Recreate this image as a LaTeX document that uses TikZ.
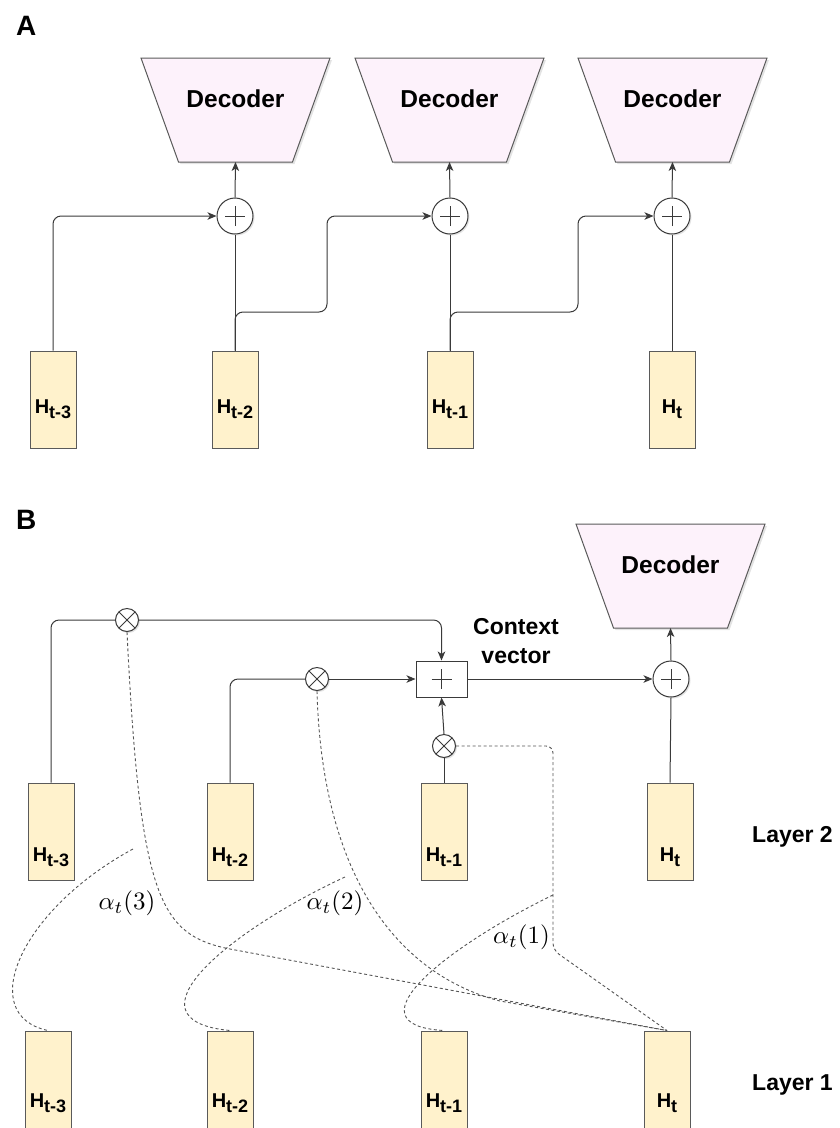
\documentclass[tikz,border=0pt]{standalone}
\usepackage[no-math]{fontspec}
\setmainfont{Liberation Sans}
\usetikzlibrary{arrows.meta,shadows,calc}
\definecolor{hfill}{HTML}{FFF2CC}
\definecolor{hdraw}{HTML}{5A5A5A}
\definecolor{dfill}{HTML}{FDF2FB}
\definecolor{ln}{HTML}{3A3A3A}
\definecolor{dsh}{HTML}{555555}
\newcommand{\hlab}[2]{\raisebox{-#1}[0pt][0pt]{\fontsize{20}{20}\selectfont\bfseries H\raisebox{-4.5pt}{\fontsize{18}{18}\selectfont #2}}}
\newcommand{\decoder}[3]{%
  \path[draw=hdraw, fill=dfill, line width=1pt, drop shadow={shadow xshift=2pt,shadow yshift=-2pt,opacity=0.22}]
    (#2-94.5,#3) -- (#2+94.5,#3) -- (#2+57,#3+104) -- (#2-57,#3+104) -- cycle;
  \node[dectext, anchor=base] (#1) at (#2,#3+49) {Decoder};
  \coordinate (#1b) at (#2,#3+104);
}
\begin{document}
\begin{tikzpicture}[x=1pt,y=-1pt,
  hbox/.style={draw=hdraw, fill=hfill, line width=1pt, minimum width=46pt, minimum height=97pt, inner sep=0pt},
  conn/.style={draw=ln, line width=1pt},
  arr/.style={conn, -{Stealth[length=9pt,width=7.5pt,inset=2.5pt]}},
  dashln/.style={draw=dsh, line width=0.9pt, dash pattern=on 3pt off 2.5pt},
  dectext/.style={inner sep=0pt, font=\fontsize{24.5}{24.5}\selectfont\bfseries},
  bigtext/.style={inner sep=0pt, font=\fontsize{23}{29}\selectfont\bfseries},
  plusmark/.style={path picture={\draw[ln,line width=1pt] ([xshift=-10pt]path picture bounding box.center) -- ([xshift=10pt]path picture bounding box.center) ([yshift=-10pt]path picture bounding box.center) -- ([yshift=10pt]path picture bounding box.center);}},
  sumc/.style={circle, draw=ln, fill=white, line width=1pt, minimum size=36pt, inner sep=0pt, drop shadow={shadow xshift=1.5pt,shadow yshift=-1.5pt,opacity=0.22}, plusmark},
  mulc/.style={circle, draw=ln, fill=white, line width=1pt, minimum size=23pt, inner sep=0pt, drop shadow={shadow xshift=1.5pt,shadow yshift=-1.5pt,opacity=0.22},
    path picture={\draw[ln,line width=1pt] (path picture bounding box.north west) -- (path picture bounding box.south east) (path picture bounding box.north east) -- (path picture bounding box.south west);}},
  ctxbox/.style={draw=ln, fill=white, line width=1pt, minimum width=51pt, minimum height=36pt, inner sep=0pt, plusmark},
  alab/.style={inner sep=0pt}
]
\useasboundingbox (0,0) rectangle (840,1128);

% ---------------- Part A ----------------
\node[anchor=base west, inner sep=0pt, font=\fontsize{28}{28}\selectfont\bfseries] (labA) at (16,35) {A};
\decoder{da1}{235.5}{58}
\decoder{da2}{449.5}{58}
\decoder{da3}{672.5}{58}

\node[sumc] (pa1) at (235,216) {};
\node[sumc] (pa2) at (450,216) {};
\node[sumc] (pa3) at (672,216) {};

\node[hbox] (Ha3) at (53,399.5) {\hlab{14pt}{t-3}};
\node[hbox] (Ha2) at (235,399.5) {\hlab{14pt}{t-2}};
\node[hbox] (Ha1) at (450,399.5) {\hlab{14pt}{t-1}};
\node[hbox] (Ha0) at (672,399.5) {\hlab{14pt}{t}};

\draw[arr] (pa1.north) -- (da1b);
\draw[arr] (pa2.north) -- (da2b);
\draw[arr] (pa3.north) -- (da3b);

\draw[arr, rounded corners=8pt] (Ha3.north) |- (pa1.west);
\draw[conn] (Ha2.north) -- (pa1.south);
\draw[arr, rounded corners=8pt] (Ha2.north) -- (235,312) -| (327,216) -- (pa2.west);
\draw[conn] (Ha1.north) -- (pa2.south);
\draw[arr, rounded corners=8pt] (Ha1.north) -- (450,312) -| (578,216) -- (pa3.west);
\draw[conn] (Ha0.north) -- (pa3.south);

% ---------------- Part B ----------------
\node[anchor=base west, inner sep=0pt, font=\fontsize{28}{28}\selectfont\bfseries] (labB) at (16,529) {B};
\decoder{db}{670.5}{524}
\node[sumc] (pb) at (671,679) {};
\node[ctxbox] (ctx) at (441.5,679) {};
\node[bigtext, align=center] (ctxt) at (516,641) {Context\\vector};

\node[mulc] (m3) at (127,620) {};
\node[mulc] (m2) at (317,679) {};
\node[mulc] (m1) at (444,746) {};

\node[hbox] (B3) at (51,831.5) {\hlab{30pt}{t-3}};
\node[hbox] (B2) at (230,831.5) {\hlab{30pt}{t-2}};
\node[hbox] (B1) at (444,831.5) {\hlab{30pt}{t-1}};
\node[hbox] (B0) at (670,831.5) {\hlab{30pt}{t}};

\node[hbox] (C3) at (48,1079.5) {\hlab{28pt}{t-3}};
\node[hbox] (C2) at (230,1079.5) {\hlab{28pt}{t-2}};
\node[hbox] (C1) at (444,1079.5) {\hlab{28pt}{t-1}};
\node[hbox] (C0) at (667,1079.5) {\hlab{28pt}{t}};

\node[bigtext, anchor=base west] (lay2) at (752,842) {Layer 2};
\node[bigtext, anchor=base west] (lay1) at (752,1090) {Layer 1};

\draw[conn, rounded corners=8pt] (B3.north) |- (m3.west);
\draw[arr, rounded corners=8pt] (m3.east) -| (ctx.north);
\draw[conn, rounded corners=8pt] (B2.north) |- (m2.west);
\draw[arr] (m2.east) -- (ctx.west);
\draw[conn] (B1.north) -- (m1.south);
\draw[arr] (m1.north) -- (ctx.south);
\draw[arr] (ctx.east) -- (pb.west);
\draw[conn] (B0.north) -- (pb.south);
\draw[arr] (pb.north) -- (dbb);

% dashed attention links
\draw[dashln] (m3.south) .. controls (140,900) and (160,935) .. (230,949) -- (C0.north);
\draw[dashln] (m2.south) .. controls (322,880) and (400,975) .. (500,1001) -- (C0.north);
\draw[dashln, rounded corners=7pt] (m1.east) -| (553,950) -- (C0.north);

\coordinate (a3) at (133,849);
\coordinate (a2) at (345,877);
\coordinate (a1) at (553,895);
\draw[dashln] (a3) .. controls (20,910) and (-25,1015) .. (C3.north);
\draw[dashln] (a2) .. controls (230,930) and (120,1020) .. (C2.north);
\draw[dashln] (a1) .. controls (450,945) and (345,1025) .. (C1.north);

\node[alab] (al3) at (127,903) {\scalebox{2.5}{$\alpha_t(3)$}};
\node[alab] (al2) at (335,903) {\scalebox{2.5}{$\alpha_t(2)$}};
\node[alab] (al1) at (521.5,937.5) {\scalebox{2.5}{$\alpha_t(1)$}};
\end{tikzpicture}
\end{document}
